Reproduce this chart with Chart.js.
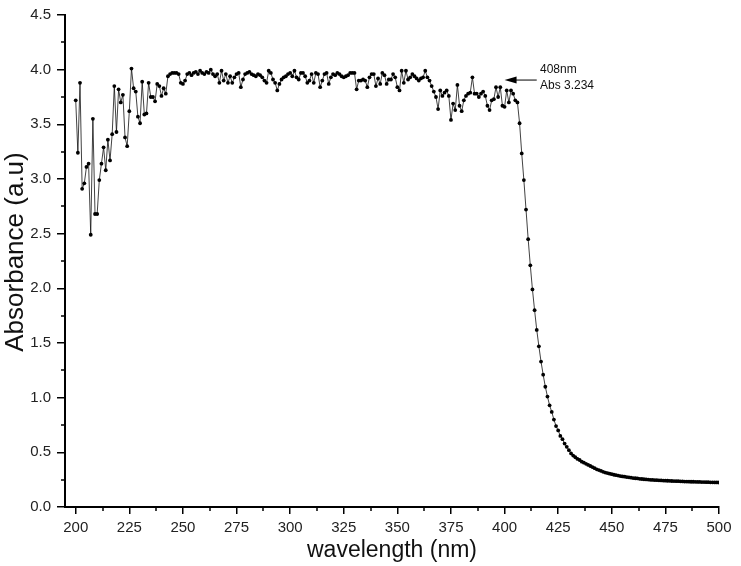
<!DOCTYPE html>
<html>
<head>
<meta charset="utf-8">
<title>Absorbance spectrum</title>
<script src="https://cdn.jsdelivr.net/npm/chart.js@4.4.0/dist/chart.umd.min.js"></script>
<style>
    html, body { margin: 0; padding: 0; background: #fff; }
    #wrap { width: 741px; height: 566px; }
</style>
</head>
<body>
<div id="wrap"><canvas id="absChart" width="741" height="566"></canvas></div>
<script>
// first wavelength of the scan, one reading per nm
const startNm = 200;

// absorbance readings 200 .. 500 nm
const absorbance = [
    3.72, 3.24, 3.88, 2.91, 2.96, 3.11, 3.14, 2.49, 3.55, 2.68,   // 200
    2.68, 2.99, 3.14, 3.29, 3.08, 3.36, 3.17, 3.41, 3.85, 3.43,   // 210
    3.82, 3.70, 3.77, 3.38, 3.30, 3.62, 4.01, 3.83, 3.80, 3.57,   // 220
    3.51, 3.89, 3.59, 3.60, 3.88, 3.75, 3.75, 3.71, 3.87, 3.85,   // 230
    3.76, 3.83, 3.78, 3.94, 3.96, 3.97, 3.97, 3.97, 3.96, 3.88,   // 240
    3.87, 3.90, 3.96, 3.97, 3.95, 3.97, 3.98, 3.96, 3.99, 3.97,   // 250
    3.96, 3.98, 3.97, 4.00, 3.96, 3.94, 3.96, 3.88, 3.99, 3.90,   // 260
    3.96, 3.88, 3.94, 3.88, 3.93, 3.96, 3.97, 3.84, 3.91, 3.96,   // 270
    3.97, 3.98, 3.96, 3.95, 3.94, 3.96, 3.95, 3.93, 3.90, 3.88,   // 280
    3.99, 3.97, 3.91, 3.88, 3.81, 3.87, 3.91, 3.93, 3.94, 3.96,   // 290
    3.97, 3.94, 3.99, 3.93, 3.91, 3.97, 3.97, 3.94, 3.88, 3.90,   // 300
    3.96, 3.88, 3.97, 3.96, 3.84, 3.90, 3.96, 3.97, 3.87, 3.93,   // 310
    3.96, 3.95, 3.97, 3.96, 3.94, 3.93, 3.94, 3.95, 3.97, 3.97,   // 320
    3.97, 3.82, 3.90, 3.90, 3.91, 3.90, 3.84, 3.93, 3.96, 3.96,   // 330
    3.85, 3.92, 3.87, 3.97, 3.95, 3.87, 3.91, 3.91, 3.96, 3.93,   // 340
    3.84, 3.81, 3.99, 3.88, 3.99, 3.91, 3.93, 3.96, 3.94, 3.92,   // 350
    3.90, 3.92, 3.93, 3.99, 3.93, 3.90, 3.85, 3.80, 3.75, 3.64,   // 360
    3.81, 3.76, 3.79, 3.81, 3.76, 3.54, 3.69, 3.63, 3.86, 3.67,   // 370
    3.62, 3.72, 3.76, 3.78, 3.79, 3.93, 3.78, 3.78, 3.75, 3.78,   // 380
    3.80, 3.76, 3.67, 3.63, 3.72, 3.73, 3.84, 3.75, 3.84, 3.67,   // 390
    3.66, 3.81, 3.70, 3.81, 3.78, 3.72, 3.70, 3.51, 3.234, 2.99,  // 400
    2.72, 2.45, 2.21, 1.99, 1.80, 1.62, 1.47, 1.33, 1.21, 1.10,   // 410
    1.01, 0.93, 0.87, 0.80, 0.74, 0.70, 0.65, 0.62, 0.58, 0.55,   // 420
    0.52, 0.49, 0.47, 0.455, 0.44, 0.43, 0.415, 0.405, 0.395, 0.385, // 430
    0.375, 0.365, 0.355, 0.345, 0.338, 0.33, 0.322, 0.315, 0.31, 0.305, // 440
    0.30, 0.295, 0.291, 0.287, 0.283, 0.28, 0.277, 0.274, 0.271, 0.268, // 450
    0.265, 0.263, 0.261, 0.258, 0.256, 0.254, 0.252, 0.251, 0.249, 0.248, // 460
    0.246, 0.245, 0.244, 0.243, 0.242, 0.241, 0.240, 0.239, 0.238, 0.237, // 470
    0.236, 0.236, 0.235, 0.234, 0.233, 0.233, 0.232, 0.231, 0.231, 0.230, // 480
    0.229, 0.229, 0.228, 0.228, 0.227, 0.227, 0.226, 0.226, 0.225, 0.225, // 490
    0.224                                                          // 500
];

const xTicks = [200, 225, 250, 275, 300, 325, 350, 375, 400, 425, 450, 475, 500];
const yTicks = [0, 0.5, 1.0, 1.5, 2.0, 2.5, 3.0, 3.5, 4.0, 4.5];

const yTitle = 'Absorbance (a.u)';

// arrow note at the band edge
const noteLines = ['408nm', 'Abs 3.234'];
const noteArrow = { fromX: 415, toX: 400, y: 3.905 };
const noteText = { x: 416.5, y1: 4.0, y2: 3.855 };

const FONT = "'Liberation Sans', Arial, sans-serif";

// small ticks half way between the labelled ones, plus the y title
const axisExtras = {
    id: 'axisExtras',
    afterDraw(chart) {
        const ctx = chart.ctx;
        const xs = chart.scales.x, ys = chart.scales.y;
        const area = chart.chartArea;
        ctx.save();
        ctx.strokeStyle = '#000';
        ctx.lineWidth = 1.5;
        ctx.beginPath();
        for (let i = 0; i < xTicks.length - 1; i++) {
            const px = Math.round(xs.getPixelForValue((xTicks[i] + xTicks[i + 1]) / 2));
            ctx.moveTo(px, area.bottom);
            ctx.lineTo(px, area.bottom + 4);
        }
        for (let i = 0; i < yTicks.length - 1; i++) {
            const py = Math.round(ys.getPixelForValue((yTicks[i] + yTicks[i + 1]) / 2));
            ctx.moveTo(area.left, py);
            ctx.lineTo(area.left - 4, py);
        }
        ctx.stroke();

        // y title sits a little above the middle of the axis
        ctx.translate(16, (area.top + area.bottom) / 2 - 9);
        ctx.rotate(-Math.PI / 2);
        ctx.fillStyle = '#111';
        ctx.font = '26px ' + FONT;
        ctx.textAlign = 'center';
        ctx.textBaseline = 'middle';
        ctx.fillText(yTitle, 0, 0);
        ctx.restore();
    }
};

// the "408nm / Abs 3.234" label with its arrow
const peakNote = {
    id: 'peakNote',
    afterDatasetsDraw(chart) {
        const ctx = chart.ctx;
        const xs = chart.scales.x, ys = chart.scales.y;
        const x1 = xs.getPixelForValue(noteArrow.fromX);
        const x2 = xs.getPixelForValue(noteArrow.toX);
        const ay = ys.getPixelForValue(noteArrow.y);
        ctx.save();
        ctx.strokeStyle = '#000';
        ctx.fillStyle = '#000';
        ctx.lineWidth = 1;
        ctx.beginPath();
        ctx.moveTo(x1, ay);
        ctx.lineTo(x2 + 8, ay);
        ctx.stroke();
        ctx.beginPath();
        ctx.moveTo(x2, ay);
        ctx.lineTo(x2 + 12, ay - 3.5);
        ctx.lineTo(x2 + 12, ay + 3.5);
        ctx.closePath();
        ctx.fill();

        ctx.fillStyle = '#111';
        ctx.font = '12px ' + FONT;
        ctx.textAlign = 'left';
        ctx.textBaseline = 'middle';
        const tx = xs.getPixelForValue(noteText.x);
        ctx.fillText(noteLines[0], tx, ys.getPixelForValue(noteText.y1));
        ctx.fillText(noteLines[1], tx, ys.getPixelForValue(noteText.y2));
        ctx.restore();
    }
};

const points = absorbance.map((v, i) => ({ x: startNm + i, y: v }));

new Chart(document.getElementById('absChart'), {
    type: 'line',
    data: {
        datasets: [{
            data: points,
            borderColor: '#111',
            borderWidth: 0.8,
            pointRadius: 1.9,
            pointBackgroundColor: '#000',
            pointBorderWidth: 0,
            tension: 0
        }]
    },
    options: {
        responsive: false,
        animation: false,
        layout: { padding: { top: 10, right: 22, bottom: 0, left: 0 } },
        plugins: {
            legend: { display: false },
            tooltip: { enabled: false }
        },
        scales: {
            x: {
                type: 'linear',
                min: 195,
                max: 500,
                afterBuildTicks: s => { s.ticks = xTicks.map(v => ({ value: v })); },
                afterFit: s => { s.height = 59; },
                ticks: {
                    font: { family: FONT, size: 15 },
                    color: '#222',
                    maxRotation: 0,
                    padding: 5
                },
                grid: { drawOnChartArea: false, tickLength: 7, color: '#000', lineWidth: 1.5 },
                border: { color: '#000', width: 2 },
                title: {
                    display: true,
                    text: 'wavelength (nm)',
                    color: '#111',
                    font: { family: FONT, size: 23 },
                    padding: { top: 0, bottom: 2 }
                }
            },
            y: {
                min: 0,
                max: 4.5,
                afterBuildTicks: s => { s.ticks = yTicks.map(v => ({ value: v })); },
                afterFit: s => { s.width = 65; },
                ticks: {
                    font: { family: FONT, size: 15 },
                    color: '#222',
                    padding: 6,
                    callback: v => Number(v).toFixed(1)
                },
                grid: { drawOnChartArea: false, tickLength: 8, color: '#000', lineWidth: 1.5 },
                border: { color: '#000', width: 2 },
                title: { display: false }
            }
        }
    },
    plugins: [axisExtras, peakNote]
});
</script>
</body>
</html>
